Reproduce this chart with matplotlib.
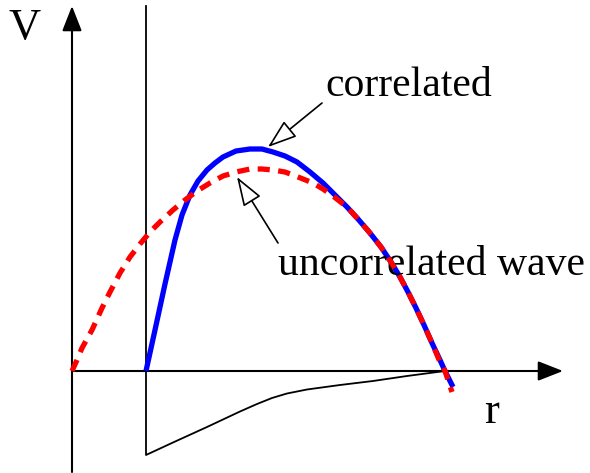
import matplotlib
matplotlib.use("Agg")
import matplotlib.pyplot as plt

# ─── Data (r along the axis, V upward; origin where the axes cross) ──────────

# correlated wave (solid blue)
corr_r = [74, 83, 93, 103, 110, 118, 126, 135, 143, 151, 164, 178, 190,
          201, 213, 225, 238, 251, 263, 275, 286, 298, 309, 319, 328, 336,
          344, 352, 360, 368, 373, 381]
corr_v = [0, 41, 87, 131, 156, 176, 190, 201, 208, 214, 220, 222, 222,
          219, 215, 209, 199, 188, 176, 164, 152, 138, 124, 109, 94, 79,
          63, 46, 28, 11, 0, -16]

# uncorrelated wave (dashed red)
unc_r = [0, 5, 10, 15, 20, 25, 30, 38, 48, 58, 68, 78, 88, 101, 113, 125,
         138, 151, 164, 178, 190, 201, 213, 221, 231, 241, 251, 261, 275,
         286, 298, 309, 319, 328, 336, 344, 352, 360, 368, 373, 380]
unc_v = [0, 11, 23, 32, 41, 52, 63, 79, 98, 114, 127, 139, 149, 161, 171,
         180, 188, 195, 199, 202, 202, 201, 199, 196, 192, 188, 182, 175,
         164, 152, 138, 124, 109, 94, 79, 63, 46, 28, 9, 0, -21]

# potential well (thin black)
well_r = [74, 74, 101, 135, 168, 185, 200, 215, 235, 268, 301, 335, 373]
well_v = [365, -84, -71.5, -56, -40.5, -33, -27, -22.5, -18.5, -14, -10,
          -5, 0]

labels = {"V": (-47, 343), "r": (420, -41)}
ann_corr = ("correlated", (196, 224), (250, 268), (253, 275))
ann_unc = ("uncorrelated wave", (165, 194), (206, 128), (206, 96))

# ─── Figure ──────────────────────────────────────────────────────────────────

fig = plt.figure(figsize=(5.9, 4.73), dpi=100)
ax = fig.add_axes([0, 0, 1, 1])
ax.set_xlim(-72, 518)
ax.set_ylim(-102, 371)
ax.axis("off")

serif = "Liberation Serif"

# axes with arrow heads
axis_arrow = dict(arrowstyle="-|>,head_length=1.4,head_width=0.55",
                  color="black", lw=1.5, shrinkA=0, shrinkB=0, mutation_scale=11)
ax.annotate("", xy=(0, 365), xytext=(0, -101), arrowprops=axis_arrow)
ax.annotate("", xy=(491, 0), xytext=(0, 0), arrowprops=axis_arrow)

ax.plot(well_r, well_v, color="black", lw=1.3, solid_joinstyle="round",
        zorder=2)
ax.plot(corr_r, corr_v, color="#0000ff", lw=3.8, solid_capstyle="butt",
        solid_joinstyle="round", zorder=3)
ax.plot(unc_r, unc_v, color="#ff0000", lw=3.8, dashes=(2.3, 1.6),
        dash_capstyle="butt", dash_joinstyle="round", zorder=4)

for txt, (x, y) in labels.items():
    ax.text(x, y, txt, fontsize=32, family=serif, ha="center", va="center")

hollow = dict(arrowstyle="-|>,head_length=1.3,head_width=0.45",
              fc="white", ec="black", lw=1.2, shrinkA=0, shrinkB=0,
              mutation_scale=14)
for txt, tip, tail, pos in (ann_corr, ann_unc):
    ax.annotate("", xy=tip, xytext=tail, arrowprops=hollow, zorder=5)
    ax.text(pos[0], pos[1], txt, fontsize=30, family=serif,
            ha="left", va="baseline")

fig.savefig("out.png", dpi=100)
